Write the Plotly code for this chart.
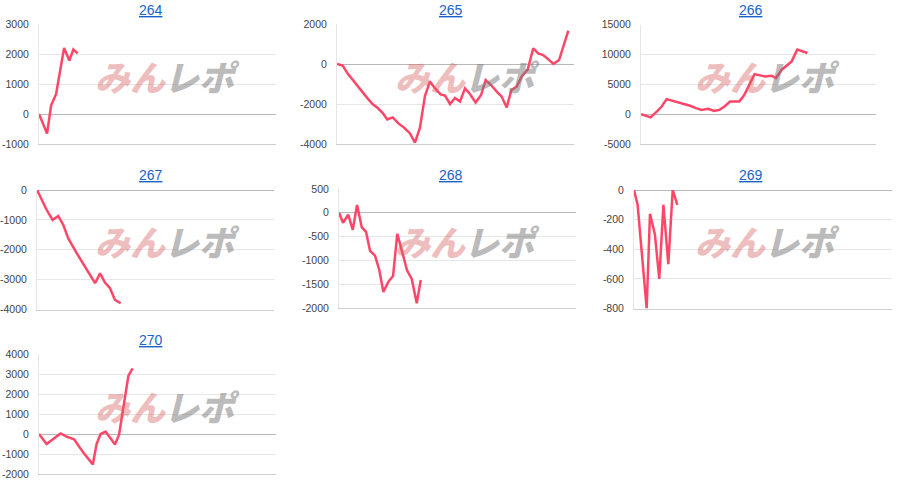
import plotly.graph_objects as go

# ---------------- data ----------------
titles = ["264", "265", "266", "267", "268", "269", "270"]

x264 = [0, 3.4, 5.1, 7.2, 10.6, 12.8, 14.5, 16.3]
y264 = [0, -650, 280, 660, 2200, 1780, 2150, 2020]

x265 = [0, 2.4, 4.5, 6.6, 8.7, 10.8, 12.9, 15.0, 17.2, 19.3, 21.2, 23.5, 25.9, 28.3,
        30.8, 32.9, 35.0, 37.1, 39.2, 41.4, 43.7, 45.6, 47.7, 49.8, 51.9, 54.0, 56.1,
        58.5, 60.8, 62.7, 65.0, 67.4, 69.5, 71.6, 73.6, 75.8, 77.9, 80.5, 82.8, 84.9,
        87.0, 89.2, 91.3, 93.7, 95.5, 97.6]
y265 = [0, -80, -480, -800, -1120, -1420, -1720, -2000, -2200, -2450, -2770, -2670,
        -2970, -3180, -3470, -3930, -3180, -1600, -880, -1220, -1520, -1580, -2000,
        -1700, -1880, -1220, -1500, -1930, -1550, -800, -1050, -1380, -1630, -2170,
        -1300, -1130, -630, -270, 780, 530, 450, 230, 0, 200, 870, 1670]

x266 = [0, 4.1, 6.7, 8.8, 10.9, 13.1, 16.6, 20.9, 23.4, 25.8, 28.6, 31.1, 33.4, 35.5,
        37.9, 41.8, 43.8, 46.0, 48.3, 52.8, 55.6, 57.4, 59.9, 64.1, 66.5, 70.8]
y266 = [0, -550, 430, 1270, 2510, 2280, 1850, 1400, 1000, 710, 880, 550, 710, 1270,
        2110, 2110, 3100, 5000, 6700, 6310, 6430, 6040, 7440, 8830, 10800, 10240]

x267 = [0, 4.1, 6.6, 9.0, 11.1, 13.2, 16.8, 20.3, 24.5, 26.6, 28.7, 30.8, 32.9, 35.3]
y267 = [0, -670, -1000, -870, -1170, -1620, -2120, -2570, -3120, -2790, -3100, -3290,
        -3680, -3790]

x268 = [0, 1.7, 3.9, 5.8, 7.6, 9.6, 11.4, 13.1, 15.2, 17.0, 18.7, 20.8, 22.8, 24.6,
        26.7, 28.7, 30.7, 32.8, 34.5]
y268 = [0, -210, -40, -360, 165, -300, -400, -800, -900, -1200, -1660, -1450, -1330,
        -440, -830, -1210, -1390, -1900, -1410]

x269 = [0, 1.4, 4.9, 6.2, 8.1, 9.8, 11.4, 13.3, 15.0, 16.8]
y269 = [0, -100, -800, -160, -300, -600, -100, -500, 0, -100]

x270 = [0, 3.2, 9.1, 11.6, 14.8, 18.7, 22.7, 24.3, 26.0, 28.1, 32.1, 33.8, 37.7, 39.5]
y270 = [0, -500, 30, -130, -270, -930, -1520, -500, 0, 120, -520, -20, 2900, 3280]

ticks264 = [-1000, 0, 1000, 2000, 3000]
ticks265 = [-4000, -2000, 0, 2000]
ticks266 = [-5000, 0, 5000, 10000, 15000]
ticks267 = [-4000, -3000, -2000, -1000, 0]
ticks268 = [-2000, -1500, -1000, -500, 0, 500]
ticks269 = [-800, -600, -400, -200, 0]
ticks270 = [-2000, -1000, 0, 1000, 2000, 3000, 4000]

# ---------------- layout geometry (pixels) ----------------
W, H = 900, 495
Y0, HE = 6.0, 483.0   # vertical placement correction


def fy(y):
    return 1 - (y - Y0) / HE


panels = [
    dict(x=x264, y=y264, t=ticks264, px=(39, 276), py=(24, 144), col=0, row=0),
    dict(x=x265, y=y265, t=ticks265, px=(337, 574), py=(24, 144), col=1, row=0),
    dict(x=x266, y=y266, t=ticks266, px=(641, 876), py=(24.5, 144), col=2, row=0),
    dict(x=x267, y=y267, t=ticks267, px=(37, 274), py=(190, 309.5), col=0, row=1),
    dict(x=x268, y=y268, t=ticks268, px=(339, 576), py=(189, 308), col=1, row=1),
    dict(x=x269, y=y269, t=ticks269, px=(634, 892), py=(190, 308.5), col=2, row=1),
    dict(x=x270, y=y270, t=ticks270, px=(39, 276), py=(354, 474), col=0, row=2),
]
title_y = [9.5, 175, 339.5]
logo_y = [76, 240.5, 405]

fig = go.Figure()
annotations = []
layout_axes = {}
for i, (p, name) in enumerate(zip(panels, titles)):
    n = "" if i == 0 else str(i + 1)
    fig.add_trace(go.Scatter(
        x=p["x"], y=p["y"], mode="lines",
        line=dict(color="#ff4668", width=2.5),
        xaxis="x" + n, yaxis="y" + n, hoverinfo="skip", showlegend=False,
    ))
    l, r = p["px"]
    t, b = p["py"]
    layout_axes["xaxis" + n] = dict(
        domain=[l / W, r / W], range=[0, 100], anchor="y" + n,
        showgrid=False, zeroline=False, showticklabels=False,
        showline=True, linecolor="#cfcfcf", linewidth=1, fixedrange=True,
    )
    layout_axes["yaxis" + n] = dict(
        domain=[fy(b), fy(t)], range=[min(p["t"]), max(p["t"])],
        anchor="x" + n, tickmode="array", tickvals=p["t"],
        ticktext=[str(v) for v in p["t"]],
        showgrid=True, gridcolor="#e6e6e6", gridwidth=1,
        zeroline=True, zerolinecolor="#b8b8b8", zerolinewidth=1,
        showline=True, linecolor="#e6e6e6", linewidth=1,
        ticks="", ticklabelstandoff=7,
        tickfont=dict(family="Arial, Liberation Sans, sans-serif", size=10.5, color="#444444"),
        fixedrange=True,
    )
    cx = p["col"] * 300
    annotations.append(dict(
        text="<u>" + name + "</u>", x=(cx + 151) / W, y=fy(title_y[p["row"]]),
        xref="paper", yref="paper", xanchor="center", yanchor="middle", showarrow=False,
        font=dict(family="Arial, Liberation Sans, sans-serif", size=14, color="#1a62c9"),
    ))
    ly = fy(logo_y[p["row"]])
    annotations.append(dict(
        text="<i>みん</i>", x=(cx + 130) / W, y=ly,
        xref="paper", yref="paper", xanchor="center", yanchor="middle", showarrow=False,
        font=dict(family="Noto Sans CJK JP", size=35, weight=900,
                  color="rgba(215,95,95,0.42)"),
    ))
    annotations.append(dict(
        text="<i>レポ</i>", x=(cx + 202) / W, y=ly,
        xref="paper", yref="paper", xanchor="center", yanchor="middle", showarrow=False,
        font=dict(family="Noto Sans CJK JP", size=35, weight=900,
                  color="rgba(120,120,120,0.5)"),
    ))

fig.update_layout(
    width=W, height=H, autosize=False,
    margin=dict(l=0, r=0, t=0, b=0),
    paper_bgcolor="white", plot_bgcolor="rgba(0,0,0,0)",
    annotations=annotations, showlegend=False,
    **layout_axes,
)

fig.write_html(
    "out.html",
    config={"displayModeBar": False},
    post_script="document.body.style.margin='0';document.documentElement.style.overflow='hidden';",
)
